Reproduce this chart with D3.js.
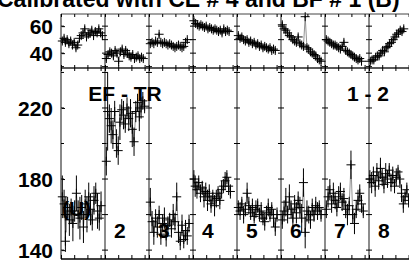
<!DOCTYPE html>
<html>
<head>
<meta charset="utf-8">
<script src="https://cdn.jsdelivr.net/npm/d3@7"></script>
<style>
  body { margin: 0; background: #fff; }
  svg { display: block; }
  text { font-family: "Liberation Sans", Arial, sans-serif; font-weight: bold; fill: #000; }
</style>
</head>
<body>
<svg id="chart" width="409" height="265"></svg>
<script>
const segments = ["1", "2", "3", "4", "5", "6", "7", "8"]
const segmentLabels = ["(U)", "2", "3", "4", "5", "6", "7", "8"]
const topTicks = [40, 60]
const topMinor = [30, 50]
const bottomTicks = [140, 180, 220]
const bottomMinor = [160, 200, 240]
const xTicks = [0, 3, 6, 9]

// [x within segment, value, error]
const topSeries = [
  [[0.3,49,2],[0.7,51,2],[1.0,48,2],[1.4,50,2],[1.8,47,2],[2.2,49,2],[2.6,46,2],[3.0,48,2],[3.4,44,2],[3.8,46,2],[4.2,51,2],[4.6,53,2],[5.0,55,2],[5.4,58,2],[5.8,52,2],[6.2,54,2],[6.6,55,2],[7.0,57,2],[7.4,53,2],[7.8,56,2],[8.2,55,2],[8.6,58,2],[9.0,55,2],[9.4,53,2]],
  [[0.3,36,2],[0.7,39,2],[1.1,41,2],[1.5,40,2],[1.9,38,2],[2.3,42,2],[2.7,40,2],[3.1,34,2],[3.5,41,2],[3.9,43,2],[4.3,39,2],[4.7,42,2],[5.1,40,2],[5.5,38,2],[5.9,37,2],[6.3,39,2],[6.7,36,2],[7.1,37,2],[7.5,38,2],[7.9,36,2],[8.3,37,2],[8.7,36,2]],
  [[0.3,47,1.5],[0.7,48,1.5],[1.1,47,1.5],[1.5,49,1.5],[1.9,48,1.5],[2.3,54,1.5],[2.7,48,1.5],[3.1,47,1.5],[3.5,48,1.5],[3.9,47,1.5],[4.3,46,1.5],[4.7,47,1.5],[5.1,46,1.5],[5.5,45,1.5],[5.9,44,1.5],[6.3,45,1.5],[6.7,46,1.5],[7.1,45,1.5],[7.5,44,1.5],[7.9,45,1.5],[8.3,48,1.5],[8.7,50,1.5]],
  [[0.2,64,2],[0.6,62,2],[1.0,61,2],[1.4,60,2],[1.8,61,2],[2.2,60,2],[2.6,59,2],[3.0,60,2],[3.4,58,2],[3.8,59,2],[4.2,58,2],[4.6,57,2],[5.0,58,2],[5.4,57,2],[5.8,56,2],[6.2,57,2],[6.6,55,2],[7.0,58,2],[7.4,56,2],[7.8,57,2],[8.2,56,2]],
  [[0.3,53,2],[0.7,51,2],[1.1,52,2],[1.5,50,2],[1.9,49,2],[2.3,50,2],[2.7,48,2],[3.1,49,2],[3.5,47,2],[3.9,48,2],[4.3,46,2],[4.7,47,2],[5.1,45,2],[5.5,46,2],[5.9,44,2],[6.3,45,2],[6.7,44,2],[7.1,43,2],[7.5,44,2],[7.9,42,2],[8.3,43,2],[8.7,42,2]],
  [[0.3,61,2],[0.7,58,2],[1.1,57,2],[1.5,55,2],[1.9,53,2],[2.3,52,2],[2.7,50,2],[3.1,49,2],[3.5,48,2],[3.9,52,2],[4.3,47,2],[4.7,46,2],[5.1,45,2],[5.5,67,1],[5.9,44,2],[6.3,43,2],[6.7,41,2],[7.1,40,2],[7.5,39,2],[7.9,38,2],[8.3,36,2],[8.7,35,2],[9.1,34,2]],
  [[0.3,50,2],[0.7,49,2],[1.1,48,2],[1.5,47,2],[1.9,46,2],[2.3,46,2],[2.7,45,2],[3.1,44,2],[3.5,43,2],[3.9,45,2],[4.3,48,2],[4.7,42,2],[5.1,41,2],[5.5,40,2],[5.9,39,2],[6.3,38,2],[6.7,37,2],[7.1,36,2],[7.5,35,2],[7.9,36,2],[8.3,34,2]],
  [[0.3,34,2],[0.7,35,2],[1.1,35,2],[1.5,37,2],[1.9,38,2],[2.3,38,2],[2.7,40,2],[3.1,42,2],[3.5,41,2],[3.9,44,2],[4.3,45,2],[4.7,47,2],[5.1,48,2],[5.5,50,2],[5.9,52,2],[6.3,54,2],[6.7,55,2],[7.1,57,2],[7.5,56,2],[7.9,58,2]]
]

const bottomSeries = [
  [[0.3,170,12],[0.7,166,8],[1.1,160,10],[1.5,164,6],[1.9,157,9],[2.3,162,7],[2.7,155,10],[3.1,162,6],[3.5,172,10],[3.9,160,8],[4.3,158,12],[4.7,164,7],[5.1,153,9],[5.5,166,8],[5.9,160,10],[6.3,170,8],[6.7,163,9],[7.1,157,6],[7.5,168,8],[7.9,172,6],[8.3,162,10],[8.7,158,7],[9.1,165,8],[1.0,145,6]],
  [[0.3,190,8],[0.6,218,22],[1.0,214,8],[1.4,210,10],[1.8,205,8],[2.2,218,6],[2.6,200,8],[3.0,196,8],[3.4,212,10],[3.8,219,6],[4.2,216,8],[4.6,211,5],[5.0,220,6],[5.4,214,7],[5.8,217,8],[6.2,208,10],[6.6,201,8],[7.0,218,6],[7.4,223,5],[7.8,215,8],[8.2,220,6],[8.6,224,5],[9.0,221,4]],
  [[0.3,167,8],[0.7,156,6],[1.1,150,7],[1.5,158,5],[1.9,153,6],[2.3,160,5],[2.7,149,6],[3.1,155,5],[3.5,158,6],[3.9,148,6],[4.3,154,5],[4.7,157,4],[5.1,152,5],[5.5,160,6],[5.9,156,5],[6.3,170,8],[6.7,150,6],[7.1,145,5],[7.5,154,6],[7.9,146,5],[8.3,151,6],[8.7,148,5],[9.1,155,5]],
  [[0.2,180,5],[0.5,176,6],[0.9,174,5],[1.3,178,4],[1.7,172,5],[2.1,175,4],[2.5,170,6],[2.9,173,5],[3.3,168,6],[3.7,172,5],[4.1,166,5],[4.5,170,4],[4.9,165,6],[5.3,169,5],[5.7,172,4],[6.1,168,5],[6.5,174,5],[6.9,176,4],[7.3,179,5],[7.7,181,4],[8.1,176,5],[8.5,173,4]],
  [[0.3,164,4],[0.7,162,5],[1.1,166,4],[1.5,160,5],[1.9,163,4],[2.3,172,6],[2.7,165,5],[3.1,161,4],[3.5,164,5],[3.9,159,4],[4.3,163,5],[4.7,165,4],[5.1,160,4],[5.5,162,5],[5.9,158,4],[6.3,156,5],[6.7,161,4],[7.1,164,5],[7.5,160,4],[7.9,163,4],[8.3,158,5],[8.7,153,5],[9.1,160,4]],
  [[0.3,157,5],[0.7,162,6],[1.1,167,8],[1.5,160,5],[1.9,170,7],[2.3,163,5],[2.7,158,6],[3.1,166,5],[3.5,161,6],[3.9,168,5],[4.3,164,6],[4.7,158,8],[5.1,178,8],[5.5,150,9],[5.9,162,6],[6.3,160,5],[6.7,157,5],[7.1,164,5],[7.5,160,4],[7.9,165,5],[8.3,162,5],[8.7,164,4],[9.1,160,4]],
  [[0.3,163,5],[0.7,170,6],[1.1,174,6],[1.5,166,5],[1.9,172,6],[2.3,168,5],[2.7,164,5],[3.1,170,6],[3.5,173,5],[3.9,167,5],[4.3,169,6],[4.7,163,5],[5.1,160,6],[5.5,165,5],[5.9,188,8],[6.3,160,5],[6.7,155,6],[7.1,163,5],[7.5,168,6],[7.9,172,5],[8.3,166,5],[8.7,162,4]],
  [[0.2,180,5],[0.6,178,6],[1.0,182,5],[1.4,176,6],[1.8,184,5],[2.2,179,5],[2.6,186,6],[3.0,181,5],[3.4,177,5],[3.8,183,6],[4.2,180,5],[4.6,185,4],[5.0,178,5],[5.4,182,5],[5.8,176,4],[6.2,181,5],[6.6,184,4],[7.0,180,5],[7.4,172,5],[7.8,166,5],[8.2,170,4],[8.6,174,4],[9.0,168,4]]
]

const svg = d3.select("#chart")
const left = 61
const segW = 44
const topY0 = 14, topY1 = 68, botY1 = 259

const band = d3.scaleBand().domain(segments).range([left, left + segW * segments.length])
const yTop = d3.scaleLinear().domain([29, 69]).range([topY1, topY0])
const yBot = d3.scaleLinear().domain([135, 242.5]).range([botY1, topY1])

svg.append("text")
  .attr("x", -3).attr("y", 7)
  .style("font-size", "23px")
  .text("Calibrated with CE # 4 and BF # 1 (B)")

// y axes
svg.append("g")
  .attr("transform", `translate(${left},0)`)
  .call(d3.axisLeft(yTop).tickValues(topTicks).tickSize(-4).tickPadding(8))
  .call(g => g.select(".domain").remove())
  .selectAll("text").style("font-size", "21px").attr("dy", "0.36em")
svg.append("g")
  .attr("transform", `translate(${left},0)`)
  .call(d3.axisLeft(yBot).tickValues(bottomTicks).tickSize(-4).tickPadding(8))
  .call(g => g.select(".domain").remove())
  .selectAll("text").style("font-size", "21px").attr("dy", "0.36em")

// segment borders with ticks
const borders = segments.map(s => band(s)).concat([band(segments[segments.length - 1]) + segW])
borders.forEach((bx, i) => {
  svg.append("line")
    .attr("x1", bx).attr("x2", bx).attr("y1", topY0).attr("y2", botY1)
    .attr("stroke", i == 0 ? "#888" : "#666").attr("stroke-width", i == 0 ? 2 : 1.5)
  const g = svg.append("g")
  g.selectAll(".tt").data(topTicks.concat(topMinor)).join("line")
    .attr("x1", bx - (i == 0 ? 0 : 3)).attr("x2", bx + 3)
    .attr("y1", d => yTop(d)).attr("y2", d => yTop(d))
    .attr("stroke", "#000")
  g.selectAll(".bt").data(bottomTicks.concat(bottomMinor)).join("line")
    .attr("x1", bx - (i == 0 ? 0 : 3)).attr("x2", bx + 3)
    .attr("y1", d => yBot(d)).attr("y2", d => yBot(d))
    .attr("stroke", "#000")
})

// horizontal frame lines
svg.append("line").attr("x1", left).attr("x2", 409).attr("y1", topY0).attr("y2", topY0)
  .attr("stroke", "#444").attr("stroke-width", 1)
svg.append("line").attr("x1", left).attr("x2", 409).attr("y1", topY1).attr("y2", topY1)
  .attr("stroke", "#222").attr("stroke-width", 1.5)
svg.append("line").attr("x1", left).attr("x2", 409).attr("y1", botY1).attr("y2", botY1)
  .attr("stroke", "#000").attr("stroke-width", 1.5)

const cross = "M-4.5,0H4.5M0,-4.5V4.5"

segments.forEach((s, i) => {
  const xs = d3.scaleLinear().domain([0, 10]).range([band(s), band(s) + segW])

  // x ticks
  svg.append("g").attr("transform", `translate(0,${topY0})`)
    .call(d3.axisTop(xs).tickValues(xTicks).tickSize(-3).tickFormat(""))
    .call(g => g.select(".domain").remove())
  svg.append("g").attr("transform", `translate(0,${topY1})`)
    .call(d3.axisBottom(xs).tickValues(xTicks).tickSize(-3).tickFormat(""))
    .call(g => g.select(".domain").remove())
  svg.append("g").attr("transform", `translate(0,${topY1})`)
    .call(d3.axisBottom(xs).tickValues(xTicks).tickSize(3).tickFormat(""))
    .call(g => g.select(".domain").remove())
  svg.append("g").attr("transform", `translate(0,${botY1})`)
    .call(d3.axisBottom(xs).tickValues(xTicks).tickSize(-4).tickFormat(""))
    .call(g => g.select(".domain").remove())

  ;[[topSeries[i], yTop], [bottomSeries[i], yBot]].forEach(([data, ys]) => {
    const g = svg.append("g")
    const sorted = data.slice().sort((a, b) => a[0] - b[0])
    g.append("path")
      .attr("d", d3.line().x(d => xs(d[0])).y(d => ys(d[1]))(sorted))
      .attr("fill", "none").attr("stroke", "#777").attr("stroke-width", 0.8)
    g.selectAll(".err").data(data).join("line")
      .attr("x1", d => xs(d[0])).attr("x2", d => xs(d[0]))
      .attr("y1", d => ys(d[1] - d[2])).attr("y2", d => ys(d[1] + d[2]))
      .attr("stroke", "#000").attr("stroke-width", 1)
    g.selectAll(".pt").data(data).join("path")
      .attr("transform", d => `translate(${xs(d[0])},${ys(d[1])})`)
      .attr("d", cross)
      .attr("fill", "none").attr("stroke", "#000").attr("stroke-width", 1)
  })

  svg.append("text")
    .attr("x", band(s) + (i == 0 ? 1 : 9)).attr("y", i == 0 ? 216 : 238)
    .style("font-size", "21px")
    .text(segmentLabels[i])
})

svg.append("text").attr("x", 125).attr("y", 101).attr("text-anchor", "middle")
  .style("font-size", "21px").text("EF - TR")
svg.append("text").attr("x", 368).attr("y", 101).attr("text-anchor", "middle")
  .style("font-size", "21px").text("1 - 2")
</script>
</body>
</html>
